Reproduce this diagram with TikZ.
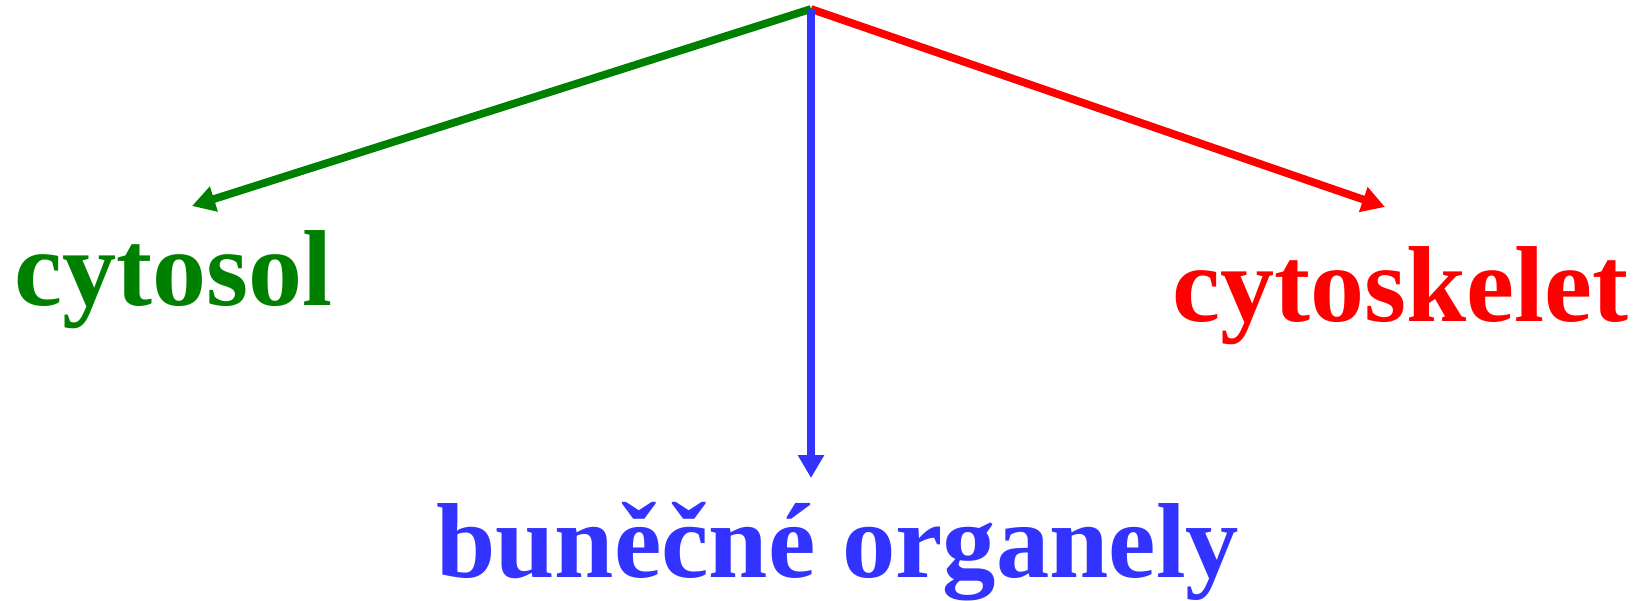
\documentclass[tikz,border=0pt]{standalone}
\usepackage{fontspec}
\setmainfont{Liberation Serif}
\usetikzlibrary{positioning,arrows.meta}
\definecolor{colGreen}{RGB}{0,128,0}
\definecolor{colBlue}{RGB}{51,51,255}
\definecolor{colRed}{RGB}{255,0,0}

\begin{document}
\begin{tikzpicture}[
  x=0.02cm, y=-0.02cm,
  lbl/.style={anchor=base west, inner sep=0pt,
    font=\fontsize{61.5}{62}\selectfont\bfseries},
  a/.style={-{Triangle[length=0.46cm,width=0.5cm]},line width=0.155cm}
]
\useasboundingbox (0,0) rectangle (1650,600);
% Labels
\node[lbl,text=colGreen] (cytosol) at (14,305) {cytosol};
\node[lbl,text=colRed] (cytoskelet) at (1172,321) {cytoskelet};
\node[lbl,text=colBlue,font=\fontsize{60.7}{62}\selectfont\bfseries]
  (organely) at (436,577) {buněčné organely};

% Arrow ends
\coordinate (top) at (811,9);
\coordinate (tipG) at (192,206);
\coordinate (tipR) at (1385,207);
\coordinate (tipB) at (811,478);

% Arrows
\draw[a,colGreen] (top)--(tipG);
\draw[a,colRed] (top)--(tipR);
\draw[a,colBlue] (top)--(tipB);
\end{tikzpicture}
\end{document}
